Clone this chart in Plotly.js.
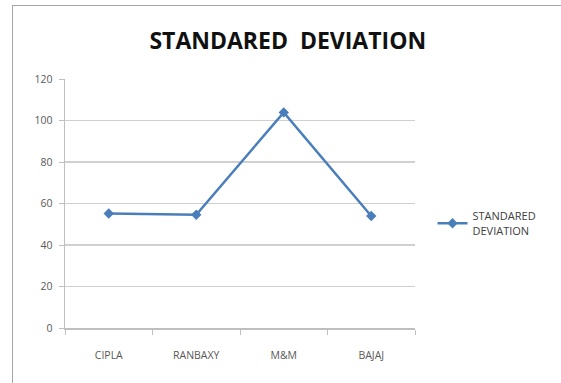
<!DOCTYPE html>
<html>
<head>
<meta charset="utf-8">
<script src="https://cdn.plot.ly/plotly-3.0.1.min.js"></script>
<style>
  html, body { margin: 0; padding: 0; background: #fff; }
  #chart { width: 561px; height: 383px; position: relative; }
  #frame { position: absolute; left: 12px; top: 5px; right: -2px; bottom: -2px;
           border-left: 1.5px solid #a6a6a6; border-top: 1.5px solid #a6a6a6;
           pointer-events: none; }
</style>
</head>
<body>
<div id="chart"></div>
<div id="frame"></div>
<script>
// Standard deviation of each company
const companies = ['CIPLA', 'RANBAXY', 'M&M', 'BAJAJ'];
const stdDev = [55.2, 54.6, 103.9, 54.0];
const yTicks = [0, 20, 40, 60, 80, 100, 120];
const seriesName = 'STANDARED<br>DEVIATION';

const tickFont = { family: 'Open Sans, Calibri, sans-serif', size: 10.5, color: '#595959' };

const trace = {
  x: companies,
  y: stdDev,
  type: 'scatter',
  mode: 'lines+markers',
  name: seriesName,
  line: { color: '#4a7ebb', width: 2.5 },
  marker: { symbol: 'diamond', size: 8, color: '#4a7ebb' }
};

const layout = {
  width: 561,
  height: 383,
  margin: { l: 65, r: 146, t: 79, b: 55 },
  paper_bgcolor: '#ffffff',
  plot_bgcolor: '#ffffff',
  title: {
    text: '<b>STANDARED  DEVIATION</b>',
    font: { family: 'Open Sans, Calibri, sans-serif', size: 23, color: '#111' },
    x: 0.513, xanchor: 'center', y: 0.893, yanchor: 'middle'
  },
  xaxis: {
    type: 'category',
    range: [-0.5, 3.5],
    showgrid: false,
    showline: true, linecolor: '#bfbfbf', linewidth: 1.5,
    ticks: 'outside', tickson: 'boundaries', ticklen: 5, tickcolor: '#bfbfbf',
    tickfont: tickFont,
    ticklabelstandoff: 17
  },
  yaxis: {
    range: [0, 120],
    tickvals: yTicks,
    showgrid: true, gridcolor: '#d0d0d0', gridwidth: 1.2,
    showline: true, linecolor: '#bfbfbf', linewidth: 1.5,
    zeroline: false,
    ticks: 'outside', ticklen: 5, tickcolor: '#bfbfbf',
    tickfont: tickFont,
    ticklabelstandoff: 4
  },
  showlegend: true,
  legend: {
    x: 1.05, xanchor: 'left', y: 0.42, yanchor: 'middle',
    font: { family: 'Open Sans, Calibri, sans-serif', size: 11, color: '#404040' },
    itemwidth: 30,
    bgcolor: 'rgba(0,0,0,0)'
  }
};

Plotly.newPlot('chart', [trace], layout, { displayModeBar: false, staticPlot: true });
</script>
</body>
</html>
